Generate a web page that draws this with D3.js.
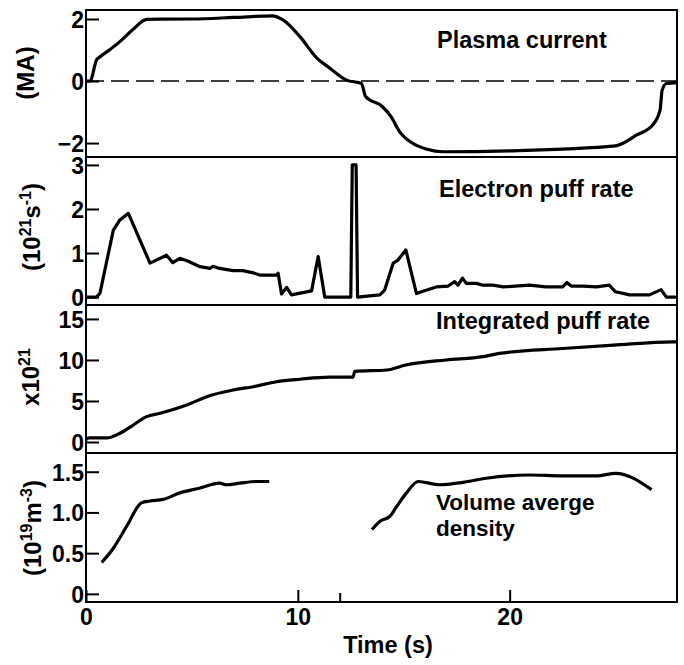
<!DOCTYPE html>
<html>
<head>
<meta charset="utf-8">
<script src="https://cdn.jsdelivr.net/npm/d3@7"></script>
<style>
  body { margin: 0; background: #fff; }
  svg text { font-family: "Liberation Sans", Arial, sans-serif; font-weight: bold; fill: #000; }
</style>
</head>
<body>
<div class="visualization"></div>
<script>
// values, time in seconds
const plasmaT = [0, 0.19, 0.5, 0.66, 1.1, 1.6, 2.2, 2.87, 5, 7, 8.8, 9.3, 10.1, 10.9, 11.5, 12.3, 13.0, 13.2, 14.0, 14.4, 14.8, 15.4, 16.1, 16.85, 20, 25.0, 26.0, 26.75, 27.1, 27.2, 27.4, 27.9];
const plasmaI = [0, 0, 0.68, 0.78, 1.0, 1.27, 1.65, 1.99, 2.0, 2.05, 2.1, 1.97, 1.43, 0.74, 0.42, 0.03, -0.08, -0.5, -0.83, -1.15, -1.63, -2.0, -2.2, -2.28, -2.25, -2.09, -1.74, -1.42, -0.94, -0.29, -0.08, -0.05];

const puffT = [0, 0.5, 0.66, 1.29, 1.6, 2.0, 3.02, 3.8, 4.1, 4.43, 4.8, 5.38, 5.85, 6.0, 6.3, 6.95, 7.4, 7.9, 8.2, 9.0, 9.07, 9.23, 9.47, 9.7, 10.65, 10.96, 11.27, 12.5, 12.57, 12.75, 12.82, 13.87, 14.1, 14.5, 14.73, 15.1, 15.6, 15.83, 16.54, 17.1, 17.4, 17.56, 17.77, 17.96, 18.43, 18.74, 19.2, 19.7, 20.94, 21.7, 22.5, 22.7, 22.9, 23.46, 24.1, 24.7, 25.0, 25.66, 26.6, 27.15, 27.4, 27.9];
const puffR = [0, 0, 0.09, 1.52, 1.75, 1.9, 0.77, 0.95, 0.78, 0.88, 0.82, 0.69, 0.65, 0.7, 0.65, 0.6, 0.6, 0.55, 0.5, 0.5, 0.54, 0.07, 0.22, 0.05, 0.14, 0.92, 0, 0, 3.0, 3.0, 0, 0.05, 0.16, 0.77, 0.84, 1.07, 0.08, 0.12, 0.23, 0.25, 0.35, 0.27, 0.43, 0.31, 0.31, 0.27, 0.27, 0.23, 0.27, 0.23, 0.23, 0.33, 0.25, 0.25, 0.23, 0.27, 0.12, 0.05, 0.05, 0.17, 0, 0];

const integT = [0, 0.15, 0.98, 1.6, 2.23, 2.86, 3.5, 4.75, 5.7, 6.95, 7.9, 9.0, 10.1, 11.5, 12.6, 12.69, 14.2, 15.1, 17.0, 18.74, 19.5, 22.5, 24.9, 27.7, 27.9];
const integN = [0.3, 0.5, 0.5, 1.06, 2.07, 3.09, 3.5, 4.5, 5.52, 6.34, 6.74, 7.35, 7.65, 7.9, 7.9, 8.6, 8.78, 9.39, 10.0, 10.4, 10.8, 11.4, 11.8, 12.2, 12.2];

// null = gap in the density trace
const densT = [0.74, 1.29, 1.92, 2.63, 3.02, 3.65, 4.43, 5.38, 6.3, 6.64, 7.26, 8.05, 8.65, null, 13.5, 13.87, 14.34, 14.66, 15.13, 15.68, 16.7, 17.8, 18.9, 20.9, 22.5, 24.1, 25.0, 26.7];
const densN = [0.385, 0.56, 0.83, 1.12, 1.14, 1.16, 1.24, 1.30, 1.36, 1.34, 1.36, 1.38, 1.38, null, 0.79, 0.89, 0.95, 1.07, 1.24, 1.38, 1.34, 1.37, 1.42, 1.46, 1.45, 1.45, 1.48, 1.28];

const timeDomain = [0, 27.9];
const timeTicks = [0, 10, 20];
const timeMinor = [12];

const plasmaDomain = [-2.45, 2.29], plasmaTicks = [-2, 0, 2];
const puffDomain = [-0.18, 3.18], puffTicks = [0, 1, 2, 3];
const integDomain = [-1.34, 16.7], integTicks = [0, 5, 10, 15];
const densDomain = [-0.1, 1.73], densTicks = [0, 0.5, 1.0, 1.5];

const width = 684, height = 665;
const left = 86, right = 677;
const panelTop = [10, 157, 305, 453, 602];

var svg = d3.select(".visualization").append("svg")
  .attr("width", width).attr("height", height);

var x = d3.scaleLinear().domain(timeDomain).range([left, right]);

function zip(ts, vs) { return ts.map((t, i) => [t, vs[i]]); }

var panels = [
  { data: zip(plasmaT, plasmaI), domain: plasmaDomain, ticks: plasmaTicks, fmt: d => d < 0 ? "\u22122" : d, curve: d3.curveMonotoneX },
  { data: zip(puffT, puffR), domain: puffDomain, ticks: puffTicks, fmt: d => d, curve: d3.curveLinear },
  { data: zip(integT, integN), domain: integDomain, ticks: integTicks, fmt: d => d, curve: d3.curveMonotoneX },
  { data: zip(densT, densN), domain: densDomain, ticks: densTicks, fmt: d => d === 0 ? "0" : d3.format(".1f")(d), curve: d3.curveMonotoneX }
];

panels.forEach(function (p, k) {
  var top = panelTop[k], bot = panelTop[k + 1];
  var y = d3.scaleLinear().domain(p.domain).range([bot, top]);

  svg.append("rect")
    .attr("x", left).attr("y", top)
    .attr("width", right - left).attr("height", bot - top)
    .attr("fill", "none").attr("stroke", "#000").attr("stroke-width", 2);

  var g = svg.append("g")
    .attr("transform", "translate(" + left + ",0)")
    .call(d3.axisLeft(y).tickValues(p.ticks).tickSize(-13).tickPadding(2).tickFormat(p.fmt));
  g.select(".domain").remove();
  g.selectAll(".tick line").attr("stroke", "#000").attr("stroke-width", 2);
  g.selectAll(".tick text").style("font-size", "23px").attr("dy", "0.36em");

  if (k === 0) {
    svg.append("line")
      .attr("x1", left).attr("x2", right)
      .attr("y1", y(0)).attr("y2", y(0))
      .attr("stroke", "#000").attr("stroke-width", 1.6)
      .attr("stroke-dasharray", "18,7");
  }

  var line = d3.line()
    .defined(d => d[0] !== null)
    .curve(p.curve)
    .x(d => x(d[0])).y(d => y(d[1]));

  svg.append("path")
    .datum(p.data)
    .attr("d", line)
    .attr("fill", "none").attr("stroke", "#000")
    .attr("stroke-width", 3.2).attr("stroke-linejoin", "round");
});

// time axis with ticks pointing up into the last panel
var xa = svg.append("g")
  .attr("transform", "translate(0," + panelTop[4] + ")")
  .call(d3.axisBottom(x).tickValues(timeTicks).tickSizeInner(-12).tickSizeOuter(0).tickPadding(7));
xa.select(".domain").remove();
xa.selectAll(".tick line").attr("stroke", "#000").attr("stroke-width", 2);
xa.selectAll(".tick text").style("font-size", "23px").attr("dy", "0.71em");

svg.selectAll(".minor").data(timeMinor).enter().append("line")
  .attr("x1", d => x(d)).attr("x2", d => x(d))
  .attr("y1", panelTop[4]).attr("y2", panelTop[4] - 9)
  .attr("stroke", "#000").attr("stroke-width", 2);

svg.append("text")
  .attr("x", (343 + 433) / 2).attr("y", 653)
  .attr("text-anchor", "middle").style("font-size", "23.5px")
  .text("Time (s)");

// panel titles
svg.append("text").attr("x", 437).attr("y", 48).style("font-size", "23.5px").text("Plasma current");
svg.append("text").attr("x", 439).attr("y", 197).style("font-size", "23.5px").text("Electron puff rate");
svg.append("text").attr("x", 436).attr("y", 329).style("font-size", "23.5px").text("Integrated puff rate");
svg.append("text").attr("x", 436).attr("y", 510).style("font-size", "22.5px").text("Volume averge");
svg.append("text").attr("x", 436).attr("y", 536).style("font-size", "22.5px").text("density");

// y labels, rotated
function ylabel(cx, cy) {
  return svg.append("text")
    .attr("transform", "translate(" + cx + "," + cy + ") rotate(-90)")
    .attr("text-anchor", "middle").style("font-size", "24px");
}
ylabel(34, 73).text("(MA)");

var l2 = ylabel(40, 227);
l2.append("tspan").text("(10");
l2.append("tspan").attr("dy", -9).style("font-size", "16px").text("21");
l2.append("tspan").attr("dy", 9).text("s");
l2.append("tspan").attr("dy", -9).style("font-size", "16px").text("-1");
l2.append("tspan").attr("dy", 9).text(")");

var l3 = ylabel(39, 377);
l3.append("tspan").text("x10");
l3.append("tspan").attr("dy", -9).style("font-size", "16px").text("21");

var l4 = ylabel(41, 528);
l4.append("tspan").text("(10");
l4.append("tspan").attr("dy", -9).style("font-size", "16px").text("19");
l4.append("tspan").attr("dy", 9).text("m");
l4.append("tspan").attr("dy", -9).style("font-size", "16px").text("-3");
l4.append("tspan").attr("dy", 9).text(")");
</script>
</body>
</html>
